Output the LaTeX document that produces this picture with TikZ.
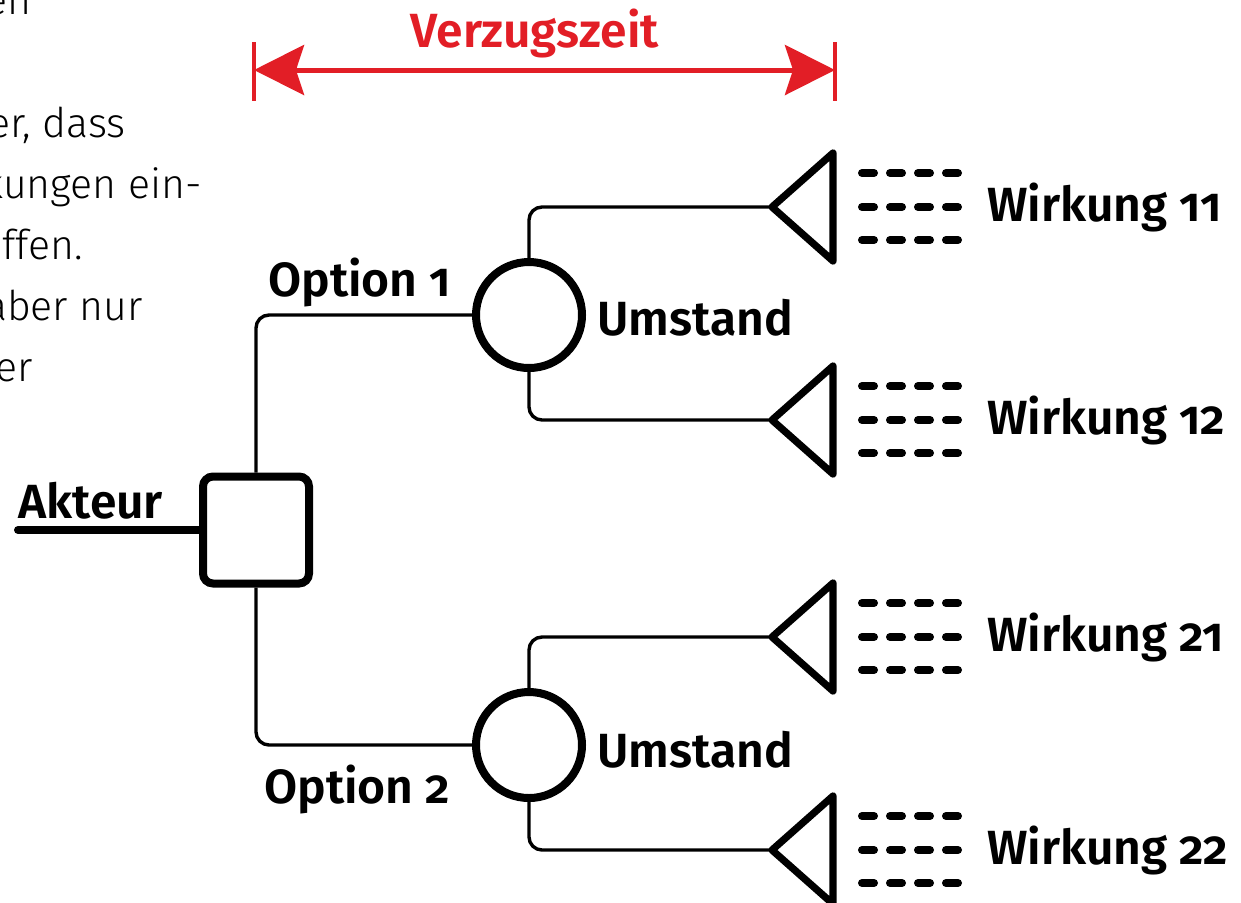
\documentclass[tikz,border=0pt]{standalone}
\usepackage{fontspec}
\setmainfont{Fira Sans}[Numbers=OldStyle, BoldFont={Fira Sans SemiBold}]
\newfontfamily\bodyfont{Fira Sans Light}
\usetikzlibrary{arrows.meta}
\definecolor{signalred}{RGB}{226,30,38}
\tikzset{
  decision/.style={draw, line width=4pt, rounded corners=5pt, minimum width=53pt, minimum height=53.5pt, inner sep=0pt},
  chance/.style={draw, circle, line width=4pt, minimum size=53pt, inner sep=0pt},
  branch/.style={line width=1.7pt, rounded corners=6.5pt},
  actorline/.style={line width=4pt, line cap=round},
  endnode/.style={line width=3.6pt, line join=round},
  effect/.style={line width=4pt, line cap=round, dash pattern=on 6pt off 8pt},
  lbl/.style={font=\fontsize{24pt}{29pt}\selectfont\bfseries, anchor=base west, inner sep=0pt},
  body/.style={font=\bodyfont\fontsize{20.5pt}{30pt}\selectfont, anchor=base east, inner sep=0pt},
  timetick/.style={signalred, line width=1.6pt},
  timespan/.style={signalred, line width=2.5pt, {Stealth[length=25pt,width=25pt,inset=4pt]}-{Stealth[length=25pt,width=25pt,inset=4pt]}},
}
\begin{document}
\begin{tikzpicture}[x=0.5pt,y=-0.5pt]
\useasboundingbox (0,0) rectangle (1241,902);

% running text of the page, cut at the left margin
\node[body] (t1) at (32,14) {en};
\node[body] (t2) at (126,137) {er, dass};
\node[body] (t3) at (202,198) {kungen ein-};
\node[body] (t4) at (83,259) {effen.};
\node[body] (t5) at (143,320) {aber nur};
\node[body] (t6) at (33,381) {er};

% delay span
\coordinate (vl) at (254,70);
\coordinate (vr) at (835,70);
\draw[timetick] (vl) ++(0,-28) -- ++(0,59);
\draw[timetick] (vr) ++(0,-28) -- ++(0,59);
\draw[timespan] (vl) -- (vr);
\node[font=\fontsize{24pt}{29pt}\selectfont\bfseries, text=signalred, anchor=base, inner sep=0pt] (vz) at (535,47) {Verzugszeit};

% decision and chance nodes
\node[decision] (akt) at (256,530) {};
\node[chance] (c1) at (529,315) {};
\node[chance] (c2) at (529,745) {};

% end nodes with their effects
\foreach \id/\ty in {e11/207, e12/420, e21/637, e22/850} {
  \coordinate (\id) at (772,\ty);
  \draw[endnode] (\id) -- ++(61,-54) -- ++(0,108) -- cycle;
  \foreach \dy in {-34,0,33}
    \draw[effect] (\id) ++(90,\dy) -- ++(96,0);
}

% branches
\coordinate (a0) at (18,530);
\draw[actorline] (a0) -- (akt.west);
\draw[branch] (akt.north) |- (c1.west);
\draw[branch] (akt.south) |- (c2.west);
\draw[branch] (c1.north) |- (e11);
\draw[branch] (c1.south) |- (e12);
\draw[branch] (c2.north) |- (e21);
\draw[branch] (c2.south) |- (e22);

% labels
\node[lbl] (lakt) at (18,518) {Akteur};
\node[lbl] (lo1) at (268,296) {Option 1};
\node[lbl] (lo2) at (264,803) {Option 2};
\node[lbl] (lu1) at (597,335) {Umstand};
\node[lbl] (lu2) at (597,767) {Umstand};
\node[lbl] (lw11) at (987,221) {Wirkung 11};
\node[lbl] (lw12) at (987,434) {Wirkung 12};
\node[lbl] (lw21) at (987,651) {Wirkung 21};
\node[lbl] (lw22) at (987,864) {Wirkung 22};
\end{tikzpicture}
\end{document}
